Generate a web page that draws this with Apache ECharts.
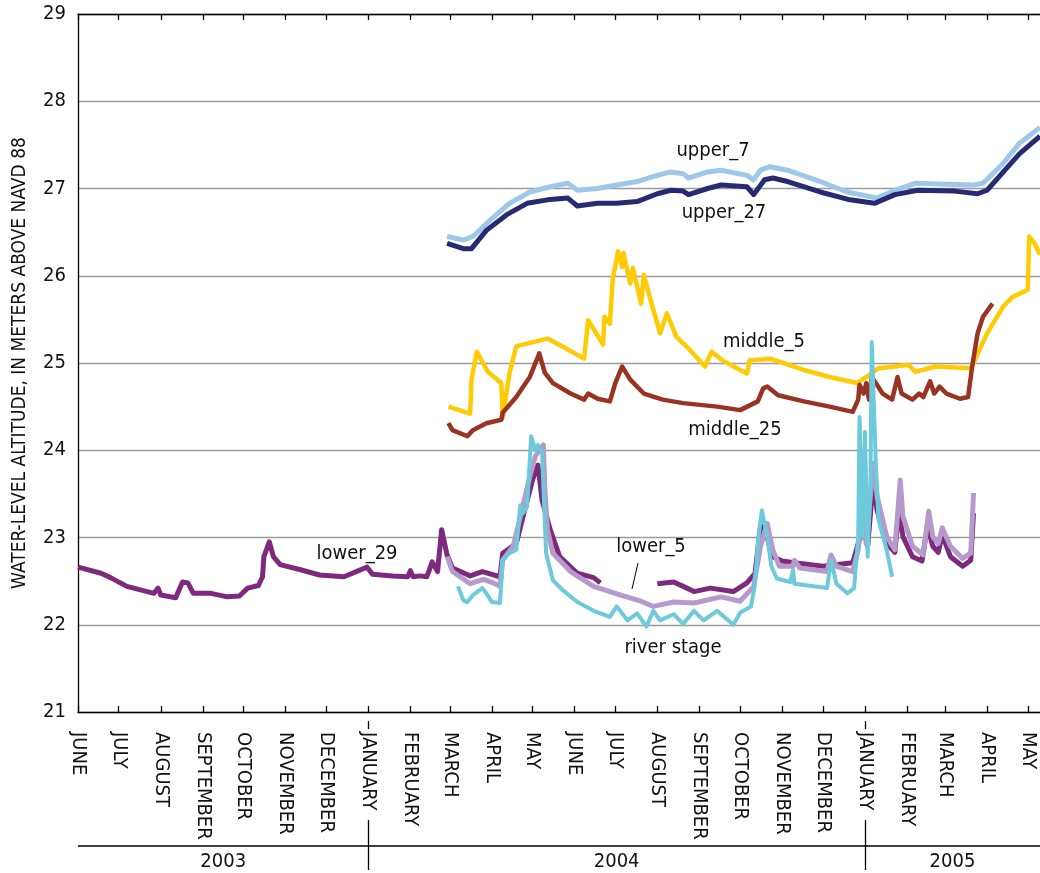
<!DOCTYPE html>
<html><head><meta charset="utf-8">
<script src="https://cdn.jsdelivr.net/npm/echarts@6/dist/echarts.min.js"></script>
<style>html,body{margin:0;padding:0;background:#fff}#chart{width:1040px;height:873px}</style>
</head><body><div id="chart"></div>
<script>
const FONT = '"Liberation Sans Narrow","DejaVu Sans Condensed","Roboto Condensed",sans-serif';
const monthTicks = ['2003-06-01','2003-07-01','2003-08-01','2003-09-01','2003-10-01','2003-11-01','2003-12-01',
 '2004-01-01','2004-02-01','2004-03-01','2004-04-01','2004-05-01','2004-06-01','2004-07-01','2004-08-01','2004-09-01',
 '2004-10-01','2004-11-01','2004-12-01','2005-01-01','2005-02-01','2005-03-01','2005-04-01','2005-05-01'];
const monthNames = ['JANUARY','FEBRUARY','MARCH','APRIL','MAY','JUNE','JULY','AUGUST','SEPTEMBER','OCTOBER','NOVEMBER','DECEMBER'];
const yearLabels = ['2003','2004','2005'];
const yearBounds = ['2003-06-01','2004-01-01','2005-01-01','2005-05-10'];
const yTicks = [21,22,23,24,25,26,27,28,29];

const upper7 = [['2004-02-28',26.45],['2004-03-11',26.41],['2004-03-18',26.45],['2004-03-31',26.64],['2004-04-14',26.83],
 ['2004-04-29',26.96],['2004-05-14',27.02],['2004-05-27',27.06],['2004-06-03',26.98],['2004-06-18',27.00],['2004-07-02',27.04],
 ['2004-07-17',27.08],['2004-08-01',27.15],['2004-08-11',27.19],['2004-08-20',27.17],['2004-08-24',27.12],['2004-09-07',27.19],
 ['2004-09-17',27.21],['2004-10-06',27.15],['2004-10-11',27.10],['2004-10-16',27.21],['2004-10-23',27.25],['2004-11-05',27.21],
 ['2004-11-29',27.08],['2004-12-19',26.96],['2005-01-10',26.89],['2005-01-23',26.98],['2005-02-07',27.06],['2005-03-02',27.05],
 ['2005-03-22',27.04],['2005-03-29',27.06],['2005-04-13',27.29],['2005-04-25',27.52],['2005-05-10',27.70]];
const upper27 = [['2004-02-28',26.37],['2004-03-11',26.31],['2004-03-17',26.31],['2004-03-28',26.52],['2004-04-12',26.70],
 ['2004-04-27',26.83],['2004-05-12',26.87],['2004-05-27',26.89],['2004-06-03',26.80],['2004-06-18',26.83],['2004-07-02',26.83],
 ['2004-07-17',26.85],['2004-08-01',26.94],['2004-08-11',26.98],['2004-08-20',26.97],['2004-08-24',26.93],['2004-09-07',27.00],
 ['2004-09-17',27.04],['2004-10-06',27.02],['2004-10-11',26.93],['2004-10-19',27.10],['2004-10-25',27.12],['2004-11-05',27.08],
 ['2004-11-29',26.96],['2004-12-21',26.87],['2005-01-08',26.83],['2005-01-23',26.93],['2005-02-09',26.98],['2005-03-08',26.97],
 ['2005-03-25',26.94],['2005-04-01',26.98],['2005-04-13',27.19],['2005-04-25',27.40],['2005-05-10',27.60]];
const middle5 = [['2004-02-29',24.50],['2004-03-16',24.42],['2004-03-17',24.81],['2004-03-21',25.13],['2004-03-29',24.90],
 ['2004-04-08',24.77],['2004-04-09',24.38],['2004-04-14',24.88],['2004-04-19',25.19],['2004-04-29',25.23],['2004-05-12',25.28],
 ['2004-05-23',25.19],['2004-06-08',25.05],['2004-06-11',25.49],['2004-06-22',25.21],['2004-06-23',25.53],['2004-06-27',25.45],
 ['2004-06-29',25.95],['2004-07-03',26.28],['2004-07-06',26.10],['2004-07-07',26.26],['2004-07-12',25.91],['2004-07-14',26.09],
 ['2004-07-20',25.68],['2004-07-22',26.01],['2004-07-27',25.72],['2004-08-03',25.34],['2004-08-08',25.57],['2004-08-15',25.30],
 ['2004-08-25',25.15],['2004-09-05',24.96],['2004-09-10',25.13],['2004-09-18',25.03],['2004-10-01',24.92],['2004-10-06',24.88],
 ['2004-10-08',25.03],['2004-10-23',25.05],['2004-11-17',24.92],['2004-12-06',24.84],['2004-12-26',24.77],['2005-01-02',24.84],
 ['2005-01-11',24.94],['2005-01-23',24.96],['2005-02-02',24.98],['2005-02-07',24.90],['2005-02-22',24.96],['2005-03-20',24.94],
 ['2005-03-22',25.00],['2005-04-01',25.34],['2005-04-13',25.65],['2005-04-20',25.76],['2005-05-01',25.84],['2005-05-02',26.45],
 ['2005-05-06',26.37],['2005-05-10',26.24]];
const middle25 = [['2004-02-29',24.31],['2004-03-03',24.23],['2004-03-14',24.16],['2004-03-18',24.23],['2004-03-28',24.31],
 ['2004-04-08',24.35],['2004-04-09',24.43],['2004-04-19',24.61],['2004-04-29',24.84],['2004-05-06',25.11],['2004-05-10',24.89],
 ['2004-05-16',24.77],['2004-05-29',24.65],['2004-06-08',24.58],['2004-06-11',24.65],['2004-06-18',24.59],['2004-06-27',24.56],
 ['2004-07-01',24.77],['2004-07-06',24.96],['2004-07-12',24.81],['2004-07-22',24.65],['2004-08-05',24.58],['2004-08-20',24.54],
 ['2004-09-14',24.50],['2004-10-01',24.46],['2004-10-14',24.56],['2004-10-18',24.71],['2004-10-21',24.73],['2004-10-29',24.63],
 ['2004-11-17',24.56],['2004-12-06',24.50],['2004-12-23',24.44],['2004-12-27',24.58],['2004-12-28',24.75],['2004-12-31',24.65],
 ['2005-01-02',24.77],['2005-01-04',24.58],['2005-01-06',24.84],['2005-01-09',24.77],['2005-01-14',24.65],['2005-01-21',24.58],
 ['2005-01-25',24.84],['2005-01-28',24.65],['2005-02-05',24.58],['2005-02-10',24.65],['2005-02-13',24.61],['2005-02-18',24.79],
 ['2005-02-21',24.65],['2005-02-25',24.73],['2005-03-02',24.65],['2005-03-12',24.59],['2005-03-18',24.61],['2005-03-21',24.96],
 ['2005-03-25',25.34],['2005-03-29',25.53],['2005-04-05',25.68]];
const lower29 = [['2003-06-01',22.66],['2003-06-18',22.59],['2003-06-25',22.54],['2003-07-07',22.44],['2003-07-27',22.36],
 ['2003-07-30',22.42],['2003-08-01',22.34],['2003-08-12',22.31],['2003-08-17',22.49],['2003-08-21',22.48],['2003-08-25',22.36],
 ['2003-09-07',22.36],['2003-09-19',22.32],['2003-09-28',22.33],['2003-10-04',22.42],['2003-10-12',22.45],['2003-10-15',22.55],
 ['2003-10-16',22.78],['2003-10-20',22.95],['2003-10-23',22.78],['2003-10-28',22.69],['2003-11-12',22.63],['2003-11-26',22.57],
 ['2003-12-14',22.55],['2003-12-31',22.66],['2004-01-04',22.58],['2004-01-19',22.56],['2004-01-30',22.55],['2004-02-01',22.62],
 ['2004-02-03',22.55],['2004-02-08',22.56],['2004-02-13',22.55],['2004-02-15',22.63],['2004-02-17',22.72],['2004-02-21',22.61],
 ['2004-02-24',23.09],['2004-02-28',22.80],['2004-03-03',22.65],['2004-03-16',22.56],['2004-03-25',22.61],['2004-04-07',22.55],
 ['2004-04-09',22.82],['2004-04-19',22.93],['2004-04-24',23.24],['2004-05-01',23.66],['2004-05-05',23.83],['2004-05-08',23.43],
 ['2004-05-14',23.09],['2004-05-21',22.78],['2004-06-03',22.59],['2004-06-15',22.54],['2004-06-20',22.48],['2004-07-10','-'],
 ['2004-08-01',22.47],['2004-08-13',22.49],['2004-08-20',22.44],['2004-08-28',22.38],['2004-09-09',22.42],['2004-09-26',22.38],
 ['2004-10-06',22.48],['2004-10-12',22.59],['2004-10-16',23.13],['2004-10-19',23.11],['2004-10-25',22.78],['2004-11-01',22.73],
 ['2004-11-10',22.71],['2004-12-01',22.67],['2004-12-23',22.71],['2004-12-27',22.93],['2004-12-31',23.09],['2005-01-03',22.90],
 ['2005-01-07',23.62],['2005-01-10',23.31],['2005-01-17',22.93],['2005-01-23',22.83],['2005-01-26',23.31],['2005-01-29',23.01],
 ['2005-02-05',22.78],['2005-02-12',22.73],['2005-02-16',23.13],['2005-02-20',22.90],['2005-02-24',22.83],['2005-02-27',23.03],
 ['2005-03-05',22.78],['2005-03-14',22.67],['2005-03-20',22.74],['2005-03-22',23.28]];
const lower5 = [['2004-02-28',22.78],['2004-02-29',22.74],['2004-03-03',22.61],['2004-03-16',22.47],['2004-03-26',22.52],
 ['2004-04-02',22.48],['2004-04-07',22.44],['2004-04-09',22.74],['2004-04-17',22.91],['2004-04-22',23.24],['2004-04-29',23.70],
 ['2004-05-03',23.93],['2004-05-09',24.06],['2004-05-10',23.58],['2004-05-12',23.09],['2004-05-16',22.82],['2004-05-29',22.61],
 ['2004-06-15',22.44],['2004-07-05',22.34],['2004-07-20',22.27],['2004-07-29',22.21],['2004-08-13',22.26],['2004-08-28',22.25],
 ['2004-09-17',22.32],['2004-10-01',22.27],['2004-10-11',22.44],['2004-10-16',22.90],['2004-10-21',23.16],['2004-10-25',22.86],
 ['2004-10-30',22.67],['2004-11-09',22.67],['2004-11-10',22.74],['2004-11-14',22.65],['2004-12-04',22.61],['2004-12-07',22.80],
 ['2004-12-11',22.67],['2004-12-23',22.61],['2004-12-27',22.86],['2004-12-30',23.31],['2005-01-02',22.93],['2005-01-07',23.85],
 ['2005-01-10',23.47],['2005-01-17',23.01],['2005-01-23',22.86],['2005-01-27',23.66],['2005-01-29',23.24],['2005-02-05',22.90],
 ['2005-02-13',22.80],['2005-02-17',23.30],['2005-02-20',23.01],['2005-02-24',22.93],['2005-02-27',23.11],['2005-03-05',22.90],
 ['2005-03-14',22.76],['2005-03-20',22.82],['2005-03-22',23.51]];
const riverStage = [['2004-03-07',22.44],['2004-03-11',22.28],['2004-03-14',22.26],['2004-03-18',22.34],['2004-03-25',22.42],
 ['2004-03-28',22.36],['2004-04-01',22.26],['2004-04-07',22.25],['2004-04-09',22.74],['2004-04-14',22.82],['2004-04-19',22.86],
 ['2004-04-22',23.37],['2004-04-24',23.28],['2004-04-27',23.35],['2004-04-30',24.16],['2004-05-03',24.00],['2004-05-05',24.06],
 ['2004-05-08',23.98],['2004-05-10',23.20],['2004-05-11',22.82],['2004-05-16',22.51],['2004-05-23',22.40],['2004-06-03',22.26],
 ['2004-06-15',22.16],['2004-06-27',22.09],['2004-07-02',22.21],['2004-07-10',22.05],['2004-07-17',22.13],['2004-07-24',21.98],
 ['2004-07-29',22.16],['2004-08-03',22.05],['2004-08-13',22.12],['2004-08-20',22.01],['2004-08-28',22.16],['2004-09-04',22.05],
 ['2004-09-14',22.16],['2004-09-26',22.00],['2004-10-01',22.14],['2004-10-09',22.21],['2004-10-12',22.47],['2004-10-14',22.93],
 ['2004-10-17',23.31],['2004-10-21',23.01],['2004-10-24',22.67],['2004-10-28',22.53],['2004-11-07',22.49],['2004-11-09',22.63],
 ['2004-11-10',22.47],['2004-12-04',22.42],['2004-12-07',22.74],['2004-12-11',22.47],['2004-12-19',22.36],['2004-12-24',22.42],
 ['2004-12-27',23.01],['2004-12-28',24.38],['2004-12-30',23.01],['2005-01-01',24.21],['2005-01-03',22.78],['2005-01-05',23.58],
 ['2005-01-06',25.24],['2005-01-09',23.85],['2005-01-11',23.20],['2005-01-17',22.86],['2005-01-21',22.55]];

const seriesDefs = [
  {name:'upper_7', data:upper7, color:'#9dc8e9', w:5},
  {name:'upper_27', data:upper27, color:'#272a73', w:5},
  {name:'middle_5', data:middle5, color:'#ffcb05', w:4.5},
  {name:'middle_25', data:middle25, color:'#9a3322', w:4.5},
  {name:'lower_29', data:lower29, color:'#7d2a7e', w:5},
  {name:'lower_5', data:lower5, color:'#b59acb', w:5},
  {name:'river stage', data:riverStage, color:'#6ccadb', w:4}
];

function toTime(s){const p=s.split('-').map(Number);return Date.UTC(p[0],p[1]-1,p[2]);}
const tickTimes = monthTicks.map(toTime);

const chart = echarts.init(document.getElementById('chart'), null, {renderer:'canvas'});
const xCommon = {
  type:'value', min: toTime(yearBounds[0]), max: toTime(yearBounds[3]),
  axisLine:{show:true, onZero:false, lineStyle:{color:'#000', width:1.3}},
  axisTick:{show:true, inside:true, length:6, lineStyle:{color:'#000', width:1.3}, customValues: tickTimes},
  splitLine:{show:false}
};
chart.setOption({
  animation:false,
  backgroundColor:'#fff',
  grid:{left:78, right:0, top:14, bottom:161, containLabel:false},
  xAxis:[
    Object.assign({}, xCommon, {position:'bottom',
      axisLabel:{show:true, rotate:-90, margin:20, fontSize:20, color:'#111', fontFamily:FONT, customValues: tickTimes,
        hideOverlap:false,
        formatter:(v)=>monthNames[new Date(v).getUTCMonth()]}}),
    Object.assign({}, xCommon, {position:'top', axisLabel:{show:false}})
  ],
  yAxis:{
    type:'value', min:yTicks[0], max:yTicks[yTicks.length-1], interval:1,
    name:'WATER-LEVEL ALTITUDE, IN METERS ABOVE NAVD 88', nameLocation:'middle', nameGap:48, nameRotate:90,
    nameTextStyle:{fontSize:19, color:'#111', fontFamily:FONT},
    axisLine:{show:true, onZero:false, lineStyle:{color:'#000', width:1.3}},
    axisTick:{show:false},
    axisLabel:{fontSize:20, color:'#111', fontFamily:FONT, margin:12},
    splitLine:{show:true, lineStyle:{color:'#9b9b9b', width:1.3}}
  },
  series: seriesDefs.map(s=>({
    name:s.name, type:'line', showSymbol:false, symbol:'none', connectNulls:false,
    data:s.data.map(d=>[toTime(d[0]), d[1]]),
    lineStyle:{color:s.color, width:s.w, join:'round'}, itemStyle:{color:s.color}, z:2
  }))
});

// annotations / year bracket
const px = (d)=>chart.convertToPixel({xAxisIndex:0}, toTime(d));
const g = [];
const lineStyle = {stroke:'#000', lineWidth:1.3};
g.push({type:'line', shape:{x1:px(yearBounds[0]), y1:846, x2:1040, y2:846}, style:lineStyle});
[1,2].forEach(i=>{
  const x = Math.round(px(yearBounds[i]))+0.5;
  g.push({type:'line', shape:{x1:x, y1:721, x2:x, y2:729}, style:lineStyle});
  g.push({type:'line', shape:{x1:x, y1:820, x2:x, y2:870}, style:lineStyle});
});
yearLabels.forEach((t,i)=>{
  const x0 = px(yearBounds[i]), x1 = Math.min(px(yearBounds[i+1]), 1040);
  g.push({type:'text', style:{text:t, x:(x0+x1)/2, y:862, fill:'#111', font:'20px '+FONT, align:'center', verticalAlign:'middle', textAlign:'center', textVerticalAlign:'middle'}});
});
const notes = [
  ['upper_7',713,151],['upper_27',724,213],['middle_5',764,342],['middle_25',735,430],
  ['lower_29',357,554],['lower_5',651,547],['river stage',673,648]
];
notes.forEach(n=>g.push({type:'text', z:10, style:{text:n[0], x:n[1], y:n[2], fill:'#111', font:'20px '+FONT, align:'center', verticalAlign:'middle', textAlign:'center', textVerticalAlign:'middle'}}));
g.push({type:'line', shape:{x1:638, y1:563, x2:632, y2:589}, style:{stroke:'#000', lineWidth:1}});
chart.setOption({graphic:{elements:g}});
</script></body></html>
